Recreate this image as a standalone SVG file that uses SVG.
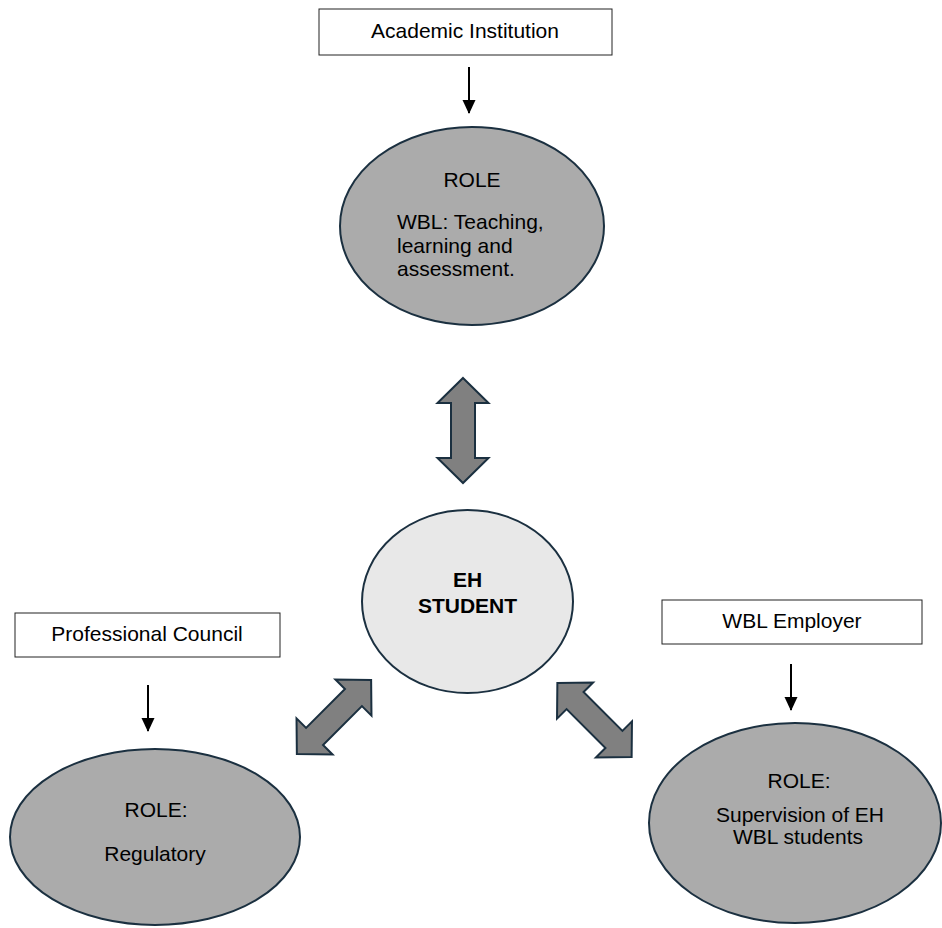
<svg xmlns="http://www.w3.org/2000/svg" xmlns:xlink="http://www.w3.org/1999/xlink" width="942" height="928" viewBox="0 0 942 928">
<style>
text{font-family:"Liberation Sans",Arial,sans-serif;font-size:21px;fill:#000}
.c{text-anchor:middle}
.b{font-weight:bold}
.box{fill:#fff;stroke:#222;stroke-width:1}
.role{fill:#ababab;stroke:#1b3040;stroke-width:2}
.stud{fill:#e8e8e8;stroke:#1b3040;stroke-width:2}
.thin{stroke:#000;stroke-width:2;fill:none}
.dbl{fill:#808080;stroke:#1b3040;stroke-width:2;stroke-linejoin:miter}
</style>
<defs>
<marker id="ah" markerUnits="userSpaceOnUse" markerWidth="16" markerHeight="16" refX="13" refY="6.5" orient="auto">
<path d="M0,0 L14,6.5 L0,13 Z" fill="#000"/>
</marker>
<path id="da" d="M0,-52.5 L25.5,-27.5 L12,-27.5 L12,27.5 L25.5,27.5 L0,52.5 L-25.5,27.5 L-12,27.5 L-12,-27.5 L-25.5,-27.5 Z"/>
</defs>
<g id="academic">
<rect class="box" x="319" y="9" width="293" height="46"/>
<text class="c" x="465" y="38">Academic Institution</text>
</g>
<g id="academic-role">
<ellipse class="role" cx="472" cy="226" rx="132" ry="99"/>
<text class="c" x="472" y="187">ROLE</text>
<text x="397" y="229">WBL: Teaching,</text>
<text x="397" y="253">learning and</text>
<text x="397" y="276">assessment.</text>
</g>
<g id="student">
<ellipse class="stud" cx="467.5" cy="601.5" rx="105.5" ry="91.5"/>
<text class="c b" x="467.5" y="587">EH</text>
<text class="c b" x="467.5" y="613">STUDENT</text>
</g>
<g id="council">
<rect class="box" x="15" y="613" width="265" height="44"/>
<text class="c" x="147" y="641">Professional Council</text>
</g>
<g id="council-role">
<ellipse class="role" cx="155" cy="837" rx="145" ry="88"/>
<text class="c" x="156" y="817">ROLE:</text>
<text class="c" x="155" y="861">Regulatory</text>
</g>
<g id="employer">
<rect class="box" x="662" y="600" width="260" height="44"/>
<text class="c" x="792" y="628">WBL Employer</text>
</g>
<g id="employer-role">
<ellipse class="role" cx="795" cy="823" rx="146" ry="100"/>
<text class="c" x="799" y="788">ROLE:</text>
<text class="c" x="800" y="822">Supervision of EH</text>
<text class="c" x="798" y="844">WBL students</text>
</g>
<g id="connectors">
<line class="thin" x1="469" y1="67" x2="469" y2="113" marker-end="url(#ah)"/>
<line class="thin" x1="148" y1="685" x2="148" y2="731" marker-end="url(#ah)"/>
<line class="thin" x1="791" y1="664" x2="791" y2="710" marker-end="url(#ah)"/>
<use xlink:href="#da" class="dbl" transform="translate(463,430.5)"/>
<use xlink:href="#da" class="dbl" transform="translate(334,717) rotate(45)"/>
<use xlink:href="#da" class="dbl" transform="translate(594.5,720) rotate(-45)"/>
</g>
</svg>
